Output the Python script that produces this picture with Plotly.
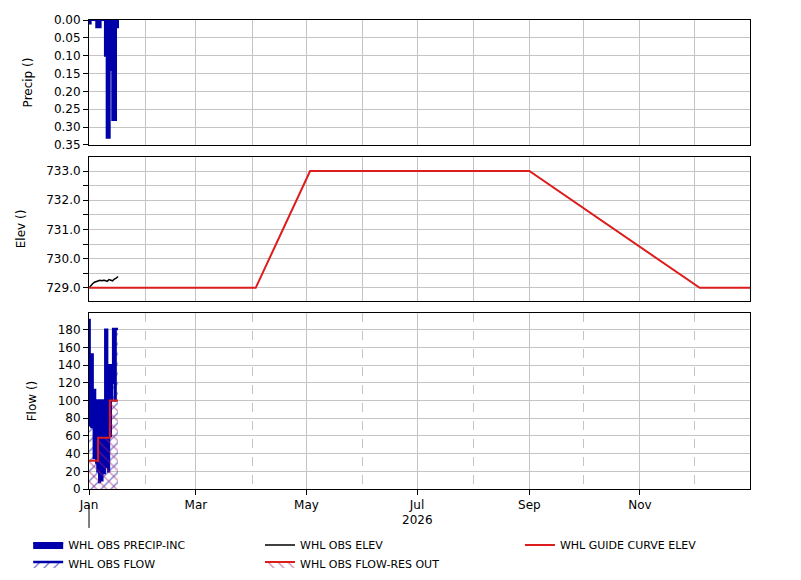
import plotly.graph_objects as go
import pandas as pd

# Precip incremental (in), step data
precip_times = ["2026-01-01 00:00", "2026-01-01 22:00", "2026-01-05 00:00", "2026-01-07 10:00",
                "2026-01-09 19:00", "2026-01-10 18:00", "2026-01-12 10:00", "2026-01-13 20:00",
                "2026-01-15 22:00", "2026-01-17 00:00"]
precip_vals = [0.01, 0.0, 0.02, 0.0, 0.10, 0.33, 0.14, 0.28, 0.02, 0.0]

# Observed elevation, daily from Jan 1
elev_vals = [729.00, 729.08, 729.14, 729.19, 729.22, 729.25, 729.26, 729.24, 729.26,
             729.25, 729.22, 729.28, 729.25, 729.24, 729.30, 729.33, 729.39]

# Guide curve
guide_dates = ["2026-01-01", "2026-04-03", "2026-05-03", "2026-09-01", "2026-12-04", "2026-12-31 18:00"]
guide_vals = [729.0, 729.0, 733.0, 733.0, 729.0, 729.0]

# Observed inflow, 8-hourly from Jan 1
flow_vals = [191, 152, 72, 152, 70, 152, 72, 112, 35, 112, 40, 100,
             30, 100, 20, 100, 55, 8, 100, 15, 100, 10, 100, 20,
             100, 18, 60, 180, 25, 180, 40, 100, 20, 100, 140, 60,
             140, 100, 140, 120, 181, 140, 181, 100, 181, 181, 181, 181, 181]

# Reservoir outflow
resout_times = ["2026-01-01 00:00", "2026-01-06 00:00", "2026-01-12 12:00", "2026-01-17 00:00"]
resout_vals = [32, 58, 100, 100]

elev_dates = pd.date_range("2026-01-01", periods=len(elev_vals), freq="D")
flow_times = pd.date_range("2026-01-01", periods=len(flow_vals), freq="8h")

BLUE = "#0000AA"
RED = "#DD1C1C"
GRID = "#C4C4C4"
X_RANGE = ["2026-01-01", "2026-12-31 18:00"]
FONT = "DejaVu Sans"

fig = go.Figure()

fig.add_trace(go.Scatter(
    x=precip_times, y=precip_vals, name="WHL OBS PRECIP-INC",
    xaxis="x", yaxis="y", mode="lines", line=dict(color=BLUE, width=2, shape="hv"),
    fill="tozeroy", fillcolor=BLUE, legend="legend"))

fig.add_trace(go.Scatter(
    x=flow_times, y=flow_vals, name="WHL OBS FLOW",
    xaxis="x3", yaxis="y3", mode="lines", line=dict(color=BLUE, width=2.5, shape="hv"),
    fill="tozeroy", fillcolor="rgba(0,0,0,0)",
    fillpattern=dict(shape="/", fgcolor=BLUE, bgcolor="rgba(0,0,0,0)", size=7, solidity=0.2),
    legend="legend"))

fig.add_trace(go.Scatter(
    x=elev_dates, y=elev_vals, name="WHL OBS ELEV",
    xaxis="x2", yaxis="y2", mode="lines", line=dict(color="black", width=1.5),
    legend="legend2"))

fig.add_trace(go.Scatter(
    x=resout_times, y=resout_vals, name="WHL OBS FLOW-RES OUT",
    xaxis="x3", yaxis="y3", mode="lines", line=dict(color=RED, width=2, shape="hv"),
    fill="tozeroy", fillcolor="rgba(0,0,0,0)",
    fillpattern=dict(shape="\\", fgcolor="#B0206A", bgcolor="rgba(0,0,0,0)", size=7, solidity=0.2),
    legend="legend2"))

fig.add_trace(go.Scatter(
    x=guide_dates, y=guide_vals, name="WHL GUIDE CURVE ELEV",
    xaxis="x2", yaxis="y2", mode="lines", line=dict(color=RED, width=2),
    legend="legend3"))

frame = dict(showline=True, linecolor="black", linewidth=1, mirror=True, zeroline=False,
             automargin=False)
top_x = dict(range=X_RANGE, type="date", dtick="M1", tick0="2026-01-01", showticklabels=False,
             ticks="", showgrid=True, gridcolor=GRID, **frame)
ytick = dict(ticks="outside", ticklen=5, tickcolor="black", showgrid=True, gridcolor=GRID,
             tickfont=dict(size=12, color="black"), title_font=dict(size=12, color="black"),
             title_standoff=18, **frame)
leg = dict(y=-0.0884, xanchor="left", yanchor="top", orientation="v",
           font=dict(size=11), itemwidth=30, bgcolor="rgba(0,0,0,0)")

# page body has an 8px margin, so the figure is offset by (8, 8) in the window
fig.update_layout(
    width=801, height=580,
    margin=dict(l=81, r=59, t=12, b=99, autoexpand=False),
    paper_bgcolor="white", plot_bgcolor="white",
    font=dict(family=FONT, size=12, color="black"),
    xaxis=dict(domain=[0, 1], anchor="y", **top_x),
    xaxis2=dict(domain=[0, 1], anchor="y2", **top_x),
    xaxis3=dict(domain=[0, 1], anchor="y3", range=X_RANGE, type="date", dtick="M2",
                tick0="2026-01-01", tickformat="%b", ticks="outside", ticklen=5,
                tickcolor="black", showgrid=True, gridcolor=GRID,
                tickfont=dict(size=12, color="black"),
                minor=dict(dtick="M1", tick0="2026-01-01", showgrid=True, gridcolor=GRID,
                           griddash="dash", ticks=""),
                **frame),
    yaxis=dict(domain=[0.7335, 1], anchor="x", range=[0.35, 0], dtick=0.05, tick0=0,
               tickformat=".2f", title_text="Precip ()", **ytick),
    yaxis2=dict(domain=[0.4009, 0.7079], anchor="x2", range=[728.55, 733.48], dtick=1,
                tick0=729, tickformat=".1f", title_text="Elev ()",
                minor=dict(dtick=0.5, tick0=729, showgrid=True, gridcolor=GRID,
                           ticks="outside", ticklen=5, tickcolor="black"),
                **ytick),
    yaxis3=dict(domain=[0, 0.3753], anchor="x3", range=[0, 199], dtick=20, tick0=0,
                title_text="Flow ()", **ytick),
    legend=dict(x=-0.092, **leg),
    legend2=dict(x=0.2587, **leg),
    legend3=dict(x=0.652, **leg),
    annotations=[dict(text="2026", x="2026-07-01", xref="x3", y=-0.066, yref="paper",
                      showarrow=False, yanchor="middle", font=dict(size=12))],
    shapes=[dict(type="line", xref="paper", yref="paper", x0=0, x1=0, y0=-0.034, y1=-0.083,
                 line=dict(color="black", width=1))],
)

fig.write_html("out.html")
